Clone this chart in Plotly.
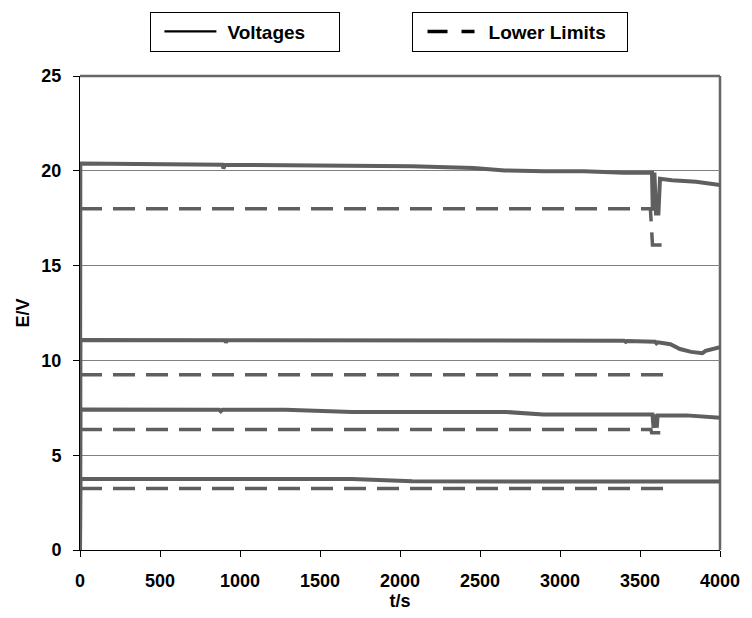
import plotly.graph_objects as go

# ---- data ----
t_v1 = [0, 2, 890, 897, 905, 1300, 1700, 2075, 2460, 2654, 2900, 3150, 3400, 3575, 3580, 3590, 3600, 3615, 3625, 3700, 3850, 4000]
v_v1 = [0, 20.38, 20.32, 20.12, 20.32, 20.3, 20.25, 20.24, 20.15, 20.02, 19.98, 19.98, 19.9, 19.9, 17.9, 19.9, 17.75, 17.75, 19.58, 19.5, 19.42, 19.25]

t_v2 = [0, 2, 905, 912, 920, 3400, 3411, 3420, 3595, 3603, 3612, 3690, 3750, 3820, 3890, 3910, 4000]
v_v2 = [0, 11.08, 11.06, 10.95, 11.06, 11.04, 10.98, 11.02, 10.98, 10.9, 10.95, 10.85, 10.6, 10.45, 10.38, 10.5, 10.7]

t_v3 = [0, 2, 870, 880, 890, 1284, 1700, 2660, 2896, 3578, 3585, 3595, 3605, 3610, 3790, 4000]
v_v3 = [0, 7.41, 7.4, 7.32, 7.4, 7.4, 7.28, 7.28, 7.15, 7.15, 6.45, 7.15, 6.45, 7.1, 7.1, 6.97]

t_v4 = [0, 2, 1700, 2077, 4000]
v_v4 = [0, 3.75, 3.74, 3.62, 3.61]

t_l1 = [0, 3565, 3578, 3665]
v_l1 = [18.0, 18.0, 16.08, 16.08]
t_l2 = [0, 3665]
v_l2 = [9.24, 9.24]
t_l3 = [0, 3568, 3573, 3665]
v_l3 = [6.36, 6.36, 6.18, 6.18]
t_l4 = [0, 3665]
v_l4 = [3.25, 3.25]

x_ticks = [0, 500, 1000, 1500, 2000, 2500, 3000, 3500, 4000]
y_ticks = [0, 5, 10, 15, 20, 25]

GRAY = "#5f5f5f"
FONT = "Liberation Sans, Arial, sans-serif"

fig = go.Figure()

for t, v in [(t_l1, v_l1), (t_l2, v_l2), (t_l3, v_l3), (t_l4, v_l4)]:
    fig.add_trace(go.Scatter(x=t, y=v, mode="lines", showlegend=False,
                             line=dict(color=GRAY, width=3.5, dash="22px,11px")))
for t, v in [(t_v1, v_v1), (t_v2, v_v2), (t_v3, v_v3), (t_v4, v_v4)]:
    fig.add_trace(go.Scatter(x=t, y=v, mode="lines", showlegend=False,
                             line=dict(color=GRAY, width=4)))

# legend-only entries (dash pattern used to position the key line inside the box)
fig.add_trace(go.Scatter(x=[None], y=[None], mode="lines", name="Voltages",
                         line=dict(color="black", width=2.2, dash="0px,8px,52px,300px"),
                         legend="legend"))
fig.add_trace(go.Scatter(x=[None], y=[None], mode="lines", name="Lower Limits",
                         line=dict(color="black", width=3.5, dash="0px,10px,20px,14px,13px,300px"),
                         legend="legend2"))

legend_common = dict(orientation="h", yanchor="top", xanchor="left",
                     bgcolor="white", bordercolor="black", borderwidth=1,
                     font=dict(family=FONT, size=19, color="black", weight="bold"),
                     itemwidth=66)

fig.update_layout(
    width=752, height=618,
    margin=dict(l=80, r=24, t=72, b=61),
    paper_bgcolor="white", plot_bgcolor="white",
    font=dict(family=FONT, color="black"),
    legend=dict(x=0.110, y=1.136, entrywidth=107, **legend_common),
    legend2=dict(x=0.518, y=1.136, entrywidth=133, **legend_common),
    xaxis=dict(range=[0, 4000], tickvals=x_ticks, showgrid=False, zeroline=False,
               showline=True, linecolor="black", linewidth=1,
               ticks="outside", ticklen=6, tickcolor="black",
               tickfont=dict(family=FONT, size=18, weight="bold"),
               ticklabelstandoff=8, layer="below traces",
               title=dict(text="t/s", font=dict(family=FONT, size=18, weight="bold"), standoff=3)),
    yaxis=dict(range=[0, 25], tickvals=y_ticks, showgrid=True, gridcolor="#808080", gridwidth=1,
               zeroline=False, showline=True, linecolor="black", linewidth=1,
               ticks="outside", ticklen=6, tickcolor="black",
               tickfont=dict(family=FONT, size=18, weight="bold"),
               ticklabelstandoff=8, layer="below traces",
               title=dict(text="E/V", font=dict(family=FONT, size=18, weight="bold"), standoff=7)),
    shapes=[
        dict(type="line", xref="paper", yref="paper", x0=0, x1=1, y0=1, y1=1,
             line=dict(color="#666666", width=2.5), layer="below"),
        dict(type="line", xref="paper", yref="paper", x0=1, x1=1, y0=0, y1=1,
             line=dict(color="#666666", width=2.5), layer="below"),
    ],
)

fig.write_html("out.html")
